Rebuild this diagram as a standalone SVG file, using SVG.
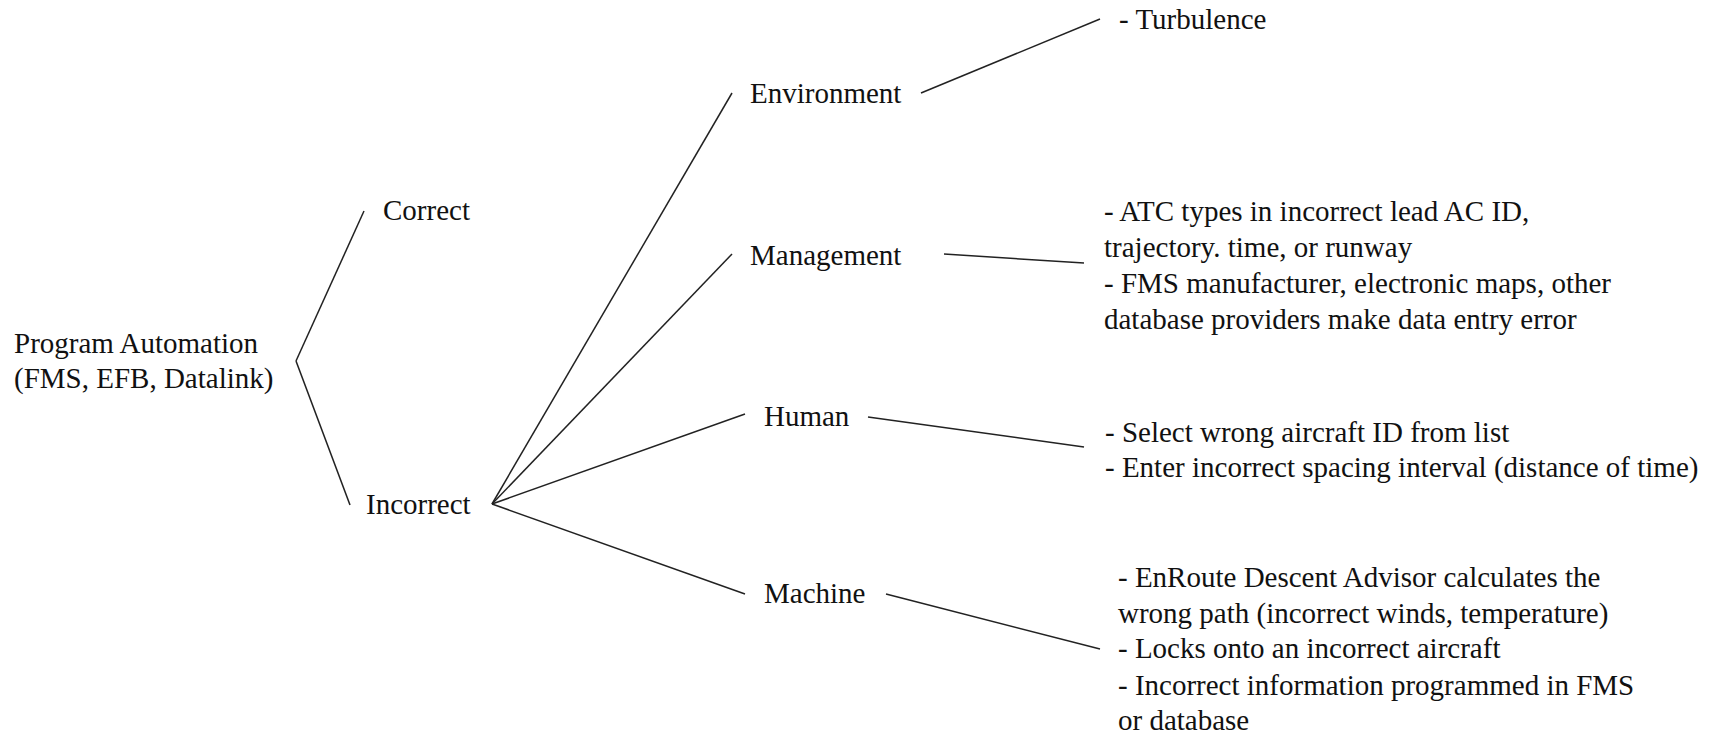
<svg xmlns="http://www.w3.org/2000/svg" width="1719" height="735" viewBox="0 0 1719 735">
<style>
text{font-family:"Liberation Serif","Times New Roman",serif;font-size:29px;fill:#111}
.c line{stroke:#222;stroke-width:1.5;fill:none}
</style>
<rect width="1719" height="735" fill="#fff"/>
<g class="c" id="connectors">
<line x1="296" y1="361" x2="364" y2="211"/>
<line x1="296" y1="361" x2="350" y2="505"/>
<line x1="492" y1="504" x2="732" y2="93"/>
<line x1="492" y1="504" x2="732" y2="254"/>
<line x1="492" y1="504" x2="745" y2="414"/>
<line x1="492" y1="504" x2="745" y2="594"/>
<line x1="921" y1="93" x2="1100" y2="19"/>
<line x1="944" y1="254" x2="1084" y2="263"/>
<line x1="868" y1="417" x2="1084" y2="447"/>
<line x1="886" y1="594" x2="1100" y2="649"/>
</g>
<g id="root"><text x="14" y="353">Program Automation</text><text x="14" y="388">(FMS, EFB, Datalink)</text></g>
<g id="correct"><text x="383" y="220">Correct</text></g>
<g id="incorrect"><text x="366" y="514">Incorrect</text></g>
<g id="environment"><text x="750" y="103">Environment</text></g>
<g id="management"><text x="750" y="265">Management</text></g>
<g id="human"><text x="764" y="426">Human</text></g>
<g id="machine"><text x="764" y="603">Machine</text></g>
<g id="turbulence"><text x="1119" y="29">- Turbulence</text></g>
<g id="management-items">
<text x="1104" y="221">- ATC types in incorrect lead AC ID,</text>
<text x="1104" y="257">trajectory. time, or runway</text>
<text x="1104" y="293">- FMS manufacturer, electronic maps, other</text>
<text x="1104" y="329">database providers make data entry error</text>
</g>
<g id="human-items">
<text x="1105" y="442">- Select wrong aircraft ID from list</text>
<text x="1105" y="477">- Enter incorrect spacing interval (distance of time)</text>
</g>
<g id="machine-items">
<text x="1118" y="587">- EnRoute Descent Advisor calculates the</text>
<text x="1118" y="623">wrong path (incorrect winds, temperature)</text>
<text x="1118" y="658">- Locks onto an incorrect aircraft</text>
<text x="1118" y="695">- Incorrect information programmed in FMS</text>
<text x="1118" y="730">or database</text>
</g>
</svg>
